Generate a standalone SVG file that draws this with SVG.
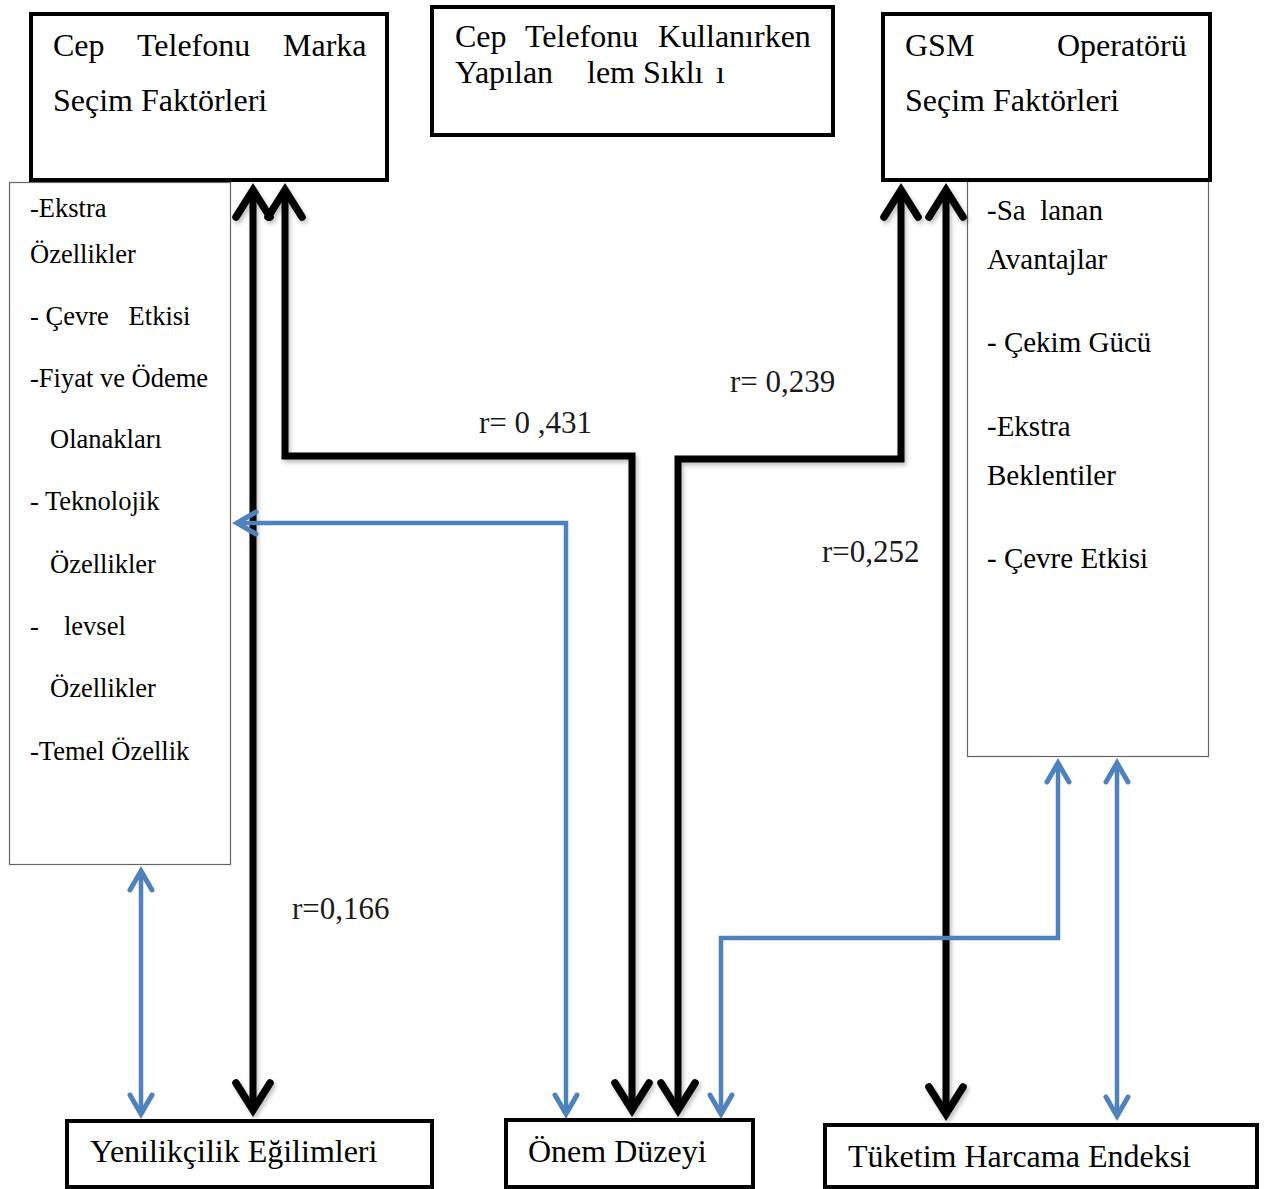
<svg xmlns="http://www.w3.org/2000/svg" width="1267" height="1189" viewBox="0 0 1267 1189">
<style>
.bg{fill:#fff}
.box{fill:#fff;stroke:#000;stroke-width:4}
.list{fill:#fff;stroke:#666;stroke-width:1.2}
.t{font-family:"Liberation Serif","Times New Roman",serif;fill:#000}
.big{font-size:32px}
.ll{font-size:26.5px}
.rl{font-size:29px}
.lab{font-family:"Liberation Serif","Times New Roman",serif;font-size:31px;fill:#1a1a1a}
.blk{fill:none;stroke:#000;stroke-width:7;stroke-linejoin:miter}
.blu{fill:none;stroke:#4f81bd;stroke-width:4.5;stroke-linejoin:miter}
</style>
<defs>
<filter id="sh" x="-20%" y="-20%" width="140%" height="140%">
<feDropShadow dx="2" dy="3" stdDeviation="2" flood-color="#000" flood-opacity="0.25"/>
</filter>
<marker id="ahk" markerUnits="userSpaceOnUse" markerWidth="60" markerHeight="60" refX="0" refY="0" orient="auto-start-reverse" overflow="visible">
<path d="M-27,-17 L0,0 L-27,17" fill="none" stroke="#000" stroke-width="7.5" stroke-linecap="round"/>
</marker>
<marker id="ahb" markerUnits="userSpaceOnUse" markerWidth="40" markerHeight="40" refX="0" refY="0" orient="auto-start-reverse" overflow="visible">
<path d="M-19,-11 L0,0 L-19,11" fill="none" stroke="#4f81bd" stroke-width="5" stroke-linecap="round"/>
</marker>
</defs>
<rect class="bg" x="0" y="0" width="1267" height="1189"/>

<g id="list-left">
<rect class="list" x="9.5" y="182.5" width="221" height="682"/>
<text class="t ll" x="30" y="217">-Ekstra</text>
<text class="t ll" x="30" y="263">Özellikler</text>
<text class="t ll" x="30" y="325" xml:space="preserve">- Çevre   Etkisi</text>
<text class="t ll" x="30" y="387">-Fiyat ve Ödeme</text>
<text class="t ll" x="50" y="448">Olanakları</text>
<text class="t ll" x="30" y="510">- Teknolojik</text>
<text class="t ll" x="50" y="573">Özellikler</text>
<text class="t ll" x="30" y="635">-</text>
<text class="t ll" x="64" y="635">levsel</text>
<text class="t ll" x="50" y="697">Özellikler</text>
<text class="t ll" x="30" y="760">-Temel Özellik</text>
</g>

<g id="list-right">
<rect class="list" x="967.5" y="181.5" width="241" height="575"/>
<text class="t rl" x="987" y="220" xml:space="preserve">-Sa  lanan</text>
<text class="t rl" x="987" y="269">Avantajlar</text>
<text class="t rl" x="987" y="352">- Çekim Gücü</text>
<text class="t rl" x="987" y="436">-Ekstra</text>
<text class="t rl" x="987" y="485">Beklentiler</text>
<text class="t rl" x="987" y="568">- Çevre Etkisi</text>
</g>

<g id="box-marka">
<rect class="box" x="31" y="14" width="356" height="166"/>
<text class="t big" x="53" y="56">Cep</text>
<text class="t big" x="137" y="56">Telefonu</text>
<text class="t big" x="283" y="56">Marka</text>
<text class="t big" x="53" y="111">Seçim Faktörleri</text>
</g>

<g id="box-islem">
<rect class="box" x="432" y="7" width="401" height="128"/>
<text class="t big" x="455" y="47">Cep</text>
<text class="t big" x="525" y="47">Telefonu</text>
<text class="t big" x="658" y="47">Kullanırken</text>
<text class="t big" x="455" y="83">Yapılan</text>
<text class="t big" x="587" y="83">lem</text>
<text class="t big" x="643" y="83">Sıklı</text>
<text class="t big" x="716" y="83">ı</text>
</g>

<g id="box-gsm">
<rect class="box" x="883" y="14" width="327" height="166"/>
<text class="t big" x="905" y="56">GSM</text>
<text class="t big" x="1057" y="56">Operatörü</text>
<text class="t big" x="905" y="111">Seçim Faktörleri</text>
</g>

<g id="box-yenilik">
<rect class="box" x="67" y="1121" width="365" height="66"/>
<text class="t big" x="90" y="1162">Yenilikçilik Eğilimleri</text>
</g>

<g id="box-onem">
<rect class="box" x="506" y="1120" width="247" height="67"/>
<text class="t big" x="528" y="1162">Önem Düzeyi</text>
</g>

<g id="box-tuketim">
<rect class="box" x="825" y="1125" width="432" height="62"/>
<text class="t big" x="848" y="1167">Tüketim Harcama Endeksi</text>
</g>

<g id="connectors">
<g filter="url(#sh)">
<path class="blk" d="M253,190 L253,1110" marker-start="url(#ahk)" marker-end="url(#ahk)"/>
<path class="blk" d="M285,190 L285,456 L632,456 L632,1110" marker-start="url(#ahk)" marker-end="url(#ahk)"/>
<path class="blk" d="M901,190 L901,459 L678,459 L678,1110" marker-start="url(#ahk)" marker-end="url(#ahk)"/>
<path class="blk" d="M946,190 L946,1114" marker-start="url(#ahk)" marker-end="url(#ahk)"/>
</g>
<path class="blu" d="M141,871 L141,1114" marker-start="url(#ahb)" marker-end="url(#ahb)"/>
<path class="blu" d="M237,523 L566,523 L566,1114" marker-start="url(#ahb)" marker-end="url(#ahb)"/>
<path class="blu" d="M1058,763 L1058,938 L721,938 L721,1114" marker-start="url(#ahb)" marker-end="url(#ahb)"/>
<path class="blu" d="M1117,763 L1117,1116" marker-start="url(#ahb)" marker-end="url(#ahb)"/>
</g>

<g id="labels">
<text class="lab" x="479" y="433">r= 0 ,431</text>
<text class="lab" x="730" y="392">r= 0,239</text>
<text class="lab" x="822" y="562">r=0,252</text>
<text class="lab" x="292" y="919">r=0,166</text>
</g>
</svg>
